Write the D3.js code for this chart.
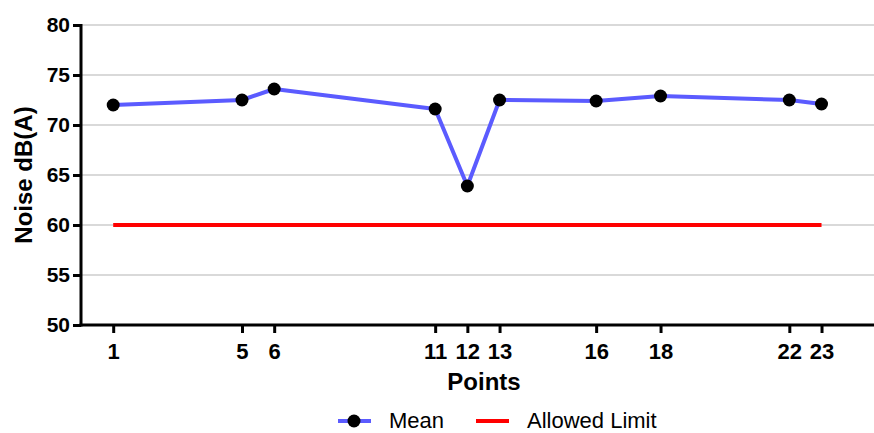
<!DOCTYPE html>
<html><head><meta charset="utf-8">
<script src="https://cdn.jsdelivr.net/npm/d3@7"></script>
<style>body{margin:0;background:#fff}svg{display:block}text{font-family:"Liberation Sans",Arial,sans-serif}</style>
</head><body>
<svg id="c" width="874" height="433"></svg>
<script>
const points = [1, 5, 6, 11, 12, 13, 16, 18, 22, 23];
const meanValues = [72.0, 72.5, 73.6, 71.6, 63.9, 72.5, 72.4, 72.9, 72.5, 72.1];
const allowedLimit = [60, 60, 60, 60, 60, 60, 60, 60, 60, 60];
const yTicks = [50, 55, 60, 65, 70, 75, 80];
const seriesNames = ["Mean", "Allowed Limit"];

const FONT = '"Liberation Sans",Arial,sans-serif';
const svg = d3.select("#c");
const x = d3.scaleLinear().domain([0, 24.63]).range([81, 874]);
const y = d3.scaleLinear().domain([50, 80]).range([325, 25]);

// gridlines
svg.append("g").selectAll("line").data(yTicks.filter(d => d > 50)).join("line")
  .attr("x1", 81).attr("x2", 874).attr("y1", d => y(d)).attr("y2", d => y(d))
  .attr("stroke", "#d9d9d9").attr("stroke-width", 2);

// Allowed limit
const line = d3.line().x(d => x(d[0])).y(d => y(d[1]));
svg.append("path").datum(points.map((p, i) => [p, allowedLimit[i]]))
  .attr("d", line).attr("fill", "none").attr("stroke", "#ff0000").attr("stroke-width", 4);

// Mean line
svg.append("path").datum(points.map((p, i) => [p, meanValues[i]]))
  .attr("d", line).attr("fill", "none").attr("stroke", "#5b5bff").attr("stroke-width", 4)
  .attr("stroke-linejoin", "round");
svg.append("g").selectAll("circle").data(points.map((p, i) => [p, meanValues[i]])).join("circle")
  .attr("cx", d => x(d[0])).attr("cy", d => y(d[1])).attr("r", 6.5).attr("fill", "#000");

// Y axis
const ya = svg.append("g").attr("transform", "translate(81,0)")
  .call(d3.axisLeft(y).tickValues(yTicks).tickSize(8).tickPadding(3));
ya.attr("font-size", null).attr("font-family", null);
ya.select(".domain").attr("stroke", "#000").attr("stroke-width", 3).attr("d", "M0,24V326.5");
ya.selectAll(".tick line").attr("stroke", "#000").attr("stroke-width", 3);
ya.selectAll(".tick text").attr("fill", "#000").style("font-size", "21px").style("font-weight", "bold")
  .style("font-family", FONT);

// X axis
const xa = svg.append("g").attr("transform", "translate(0,325)")
  .call(d3.axisBottom(x).tickValues(points).tickFormat(d3.format("d")).tickSize(8).tickPadding(10));
xa.attr("font-size", null).attr("font-family", null);
xa.select(".domain").attr("stroke", "#000").attr("stroke-width", 3).attr("d", "M79.5,0H874");
xa.selectAll(".tick line").attr("stroke", "#000").attr("stroke-width", 3);
xa.selectAll(".tick text").attr("fill", "#000").style("font-size", "22px").style("font-weight", "bold")
  .style("font-family", FONT);

// Axis titles
svg.append("text").attr("x", 484).attr("y", 390).attr("text-anchor", "middle")
  .style("font-size", "24px").style("font-weight", "bold").text("Points");
svg.append("text").attr("transform", "translate(32,175) rotate(-90)").attr("text-anchor", "middle")
  .style("font-size", "24px").style("font-weight", "bold").text("Noise dB(A)");

// Legend
const lg = svg.append("g");
lg.append("line").attr("x1", 338).attr("x2", 371).attr("y1", 421).attr("y2", 421)
  .attr("stroke", "#5b5bff").attr("stroke-width", 4);
lg.append("circle").attr("cx", 354).attr("cy", 421).attr("r", 6.5).attr("fill", "#000");
lg.append("text").attr("x", 389).attr("y", 428).style("font-size", "22px").text(seriesNames[0]);
lg.append("line").attr("x1", 476).attr("x2", 509).attr("y1", 421).attr("y2", 421)
  .attr("stroke", "#ff0000").attr("stroke-width", 4);
lg.append("text").attr("x", 527).attr("y", 428).style("font-size", "22px").text(seriesNames[1]);
</script>
</body></html>
